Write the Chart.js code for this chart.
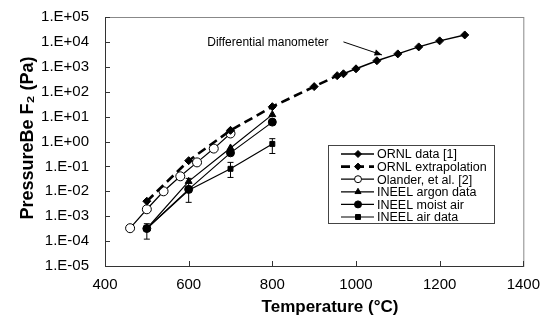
<!DOCTYPE html>
<html>
<head>
<meta charset="utf-8">
<script src="https://cdn.jsdelivr.net/npm/chart.js@4.4.1/dist/chart.umd.min.js"></script>
<style>
  html, body { margin: 0; padding: 0; background: #fff; }
  #wrap { width: 542px; height: 321px; }
</style>
</head>
<body>
<div id="wrap"><canvas id="chart" width="542" height="321"></canvas></div>
<script>
// data (temperature in °C, pressure in Pa)
const ornlT = [955, 970, 1000, 1050, 1100, 1150, 1200, 1260];
const ornlP = [440, 525, 830, 1750, 3300, 6300, 11000, 19000];
const extrapT = [500, 600, 700, 800, 900, 955];
const extrapP = [0.004, 0.17, 2.8, 25, 160, 440];
const olanderT = [460, 500, 540, 580, 620, 660, 700];
const olanderP = [3.3e-4, 1.9e-3, 0.01, 0.04, 0.145, 0.52, 2.1];
const ineelT = [500, 600, 700, 800];
const argonP = [3.2e-4, 0.025, 0.55, 12];
const moistP = [3.2e-4, 0.012, 0.35, 6];
const airP = [3.2e-4, 0.011, 0.08, 0.8];
const airLow = [1.2e-4, 0.0036, 0.036, 0.33];
const airHigh = [5e-4, 0.033, 0.145, 1.3];
const xTicks = [400, 600, 800, 1000, 1200, 1400];
const legendLabels = ['ORNL data [1]', 'ORNL extrapolation', 'Olander, et al. [2]',
  'INEEL argon data', 'INEEL moist air', 'INEEL air data'];
const noteText = 'Differential manometer';
const noteTail = [970, 10000];
const noteTip = [1062, 3000];

const FONT = '"Liberation Sans", Arial, Helvetica, sans-serif';
const pts = (xs, ys) => xs.map((x, i) => ({ x, y: ys[i] }));

function series(label, xs, ys, style, extra) {
  return Object.assign({
    label,
    data: pts(xs, ys),
    borderColor: '#000',
    backgroundColor: '#000',
    borderWidth: 1.2,
    pointStyle: style,
    pointRadius: 4,
    pointBorderColor: '#000',
    pointBackgroundColor: '#000',
    pointBorderWidth: 1,
    tension: 0
  }, extra || {});
}

const datasets = [
  series(legendLabels[0], ornlT, ornlP, 'rectRot', { borderWidth: 1.5 }),
  series(legendLabels[1], extrapT, extrapP, 'rectRot', {
    borderWidth: 2.6, borderDash: [9, 5],
    pointRadius: extrapT.map((t, i) => i === extrapT.length - 1 ? 0 : 4)
  }),
  series(legendLabels[2], olanderT, olanderP, 'circle', { pointBackgroundColor: '#fff', pointRadius: 4.5 }),
  series(legendLabels[3], ineelT, argonP, 'triangle'),
  series(legendLabels[4], ineelT, moistP, 'circle'),
  series(legendLabels[5], ineelT, airP, 'rect', { pointRadius: 3.5 })
];

// error bars, frame, inside ticks, titles, note and legend
const extras = {
  id: 'extras',
  afterDatasetsDraw(chart) {
    const { ctx, chartArea: a, scales: { x, y } } = chart;
    ctx.save();
    ctx.strokeStyle = '#000';
    ctx.lineWidth = 1;
    // air data error bars
    ineelT.forEach((t, i) => {
      const px = x.getPixelForValue(t);
      const y1 = y.getPixelForValue(airLow[i]);
      const y2 = y.getPixelForValue(airHigh[i]);
      ctx.beginPath();
      ctx.moveTo(px, y1); ctx.lineTo(px, y2);
      ctx.moveTo(px - 3, y1); ctx.lineTo(px + 3, y1);
      ctx.moveTo(px - 3, y2); ctx.lineTo(px + 3, y2);
      ctx.stroke();
    });
    // frame
    ctx.strokeStyle = '#888';
    ctx.strokeRect(a.left + 0.5, a.top + 0.5, a.right - a.left, a.bottom - a.top);
    ctx.strokeStyle = '#333';
    ctx.beginPath();
    ctx.moveTo(a.left + 0.5, a.top); ctx.lineTo(a.left + 0.5, a.bottom + 0.5);
    ctx.lineTo(a.right + 0.5, a.bottom + 0.5);
    // inside ticks
    x.ticks.forEach(tk => {
      const px = Math.round(x.getPixelForValue(tk.value)) + 0.5;
      ctx.moveTo(px, a.bottom); ctx.lineTo(px, a.bottom - 5);
    });
    y.ticks.forEach(tk => {
      const py = Math.round(y.getPixelForValue(tk.value)) + 0.5;
      ctx.moveTo(a.left, py); ctx.lineTo(a.left + 5, py);
    });
    ctx.stroke();

    // axis titles
    ctx.fillStyle = '#000';
    ctx.font = 'bold 17px ' + FONT;
    ctx.textAlign = 'center';
    ctx.textBaseline = 'alphabetic';
    ctx.fillText('Temperature (°C)', 330, 312);
    ctx.save();
    ctx.translate(33, 138);
    ctx.rotate(-Math.PI / 2);
    ctx.font = 'bold 18px ' + FONT;
    ctx.fillText('PressureBe F\u2082 (Pa)', 0, 0);
    ctx.restore();

    // note with arrow
    const tx = x.getPixelForValue(noteTail[0]), ty = y.getPixelForValue(noteTail[1]);
    const hx = x.getPixelForValue(noteTip[0]), hy = y.getPixelForValue(noteTip[1]);
    ctx.font = '12px ' + FONT;
    ctx.textAlign = 'right';
    ctx.textBaseline = 'middle';
    ctx.fillText(noteText, tx - 15, ty + 1);
    ctx.strokeStyle = '#000';
    ctx.beginPath();
    ctx.moveTo(tx, ty); ctx.lineTo(hx, hy);
    ctx.stroke();
    const ang = Math.atan2(hy - ty, hx - tx);
    ctx.beginPath();
    ctx.moveTo(hx, hy);
    ctx.lineTo(hx - 8 * Math.cos(ang - 0.4), hy - 8 * Math.sin(ang - 0.4));
    ctx.lineTo(hx - 8 * Math.cos(ang + 0.4), hy - 8 * Math.sin(ang + 0.4));
    ctx.closePath();
    ctx.fill();

    // legend box
    const bx = 328, by = 145, bw = 166, bh = 78;
    ctx.fillStyle = '#fff';
    ctx.fillRect(bx, by, bw, bh);
    ctx.strokeStyle = '#444';
    ctx.strokeRect(bx + 0.5, by + 0.5, bw, bh);
    ctx.font = '12.5px ' + FONT;
    ctx.textAlign = 'left';
    ctx.textBaseline = 'middle';
    chart.data.datasets.forEach((ds, i) => {
      const ly = by + 9 + i * 12.6;
      ctx.strokeStyle = '#000';
      ctx.lineWidth = ds.borderWidth;
      ctx.setLineDash(ds.borderDash || []);
      ctx.beginPath();
      ctx.moveTo(bx + 13, ly); ctx.lineTo(bx + 46, ly);
      ctx.stroke();
      ctx.setLineDash([]);
      ctx.lineWidth = 1;
      ctx.fillStyle = ds.pointBackgroundColor;
      ctx.strokeStyle = '#000';
      Chart.helpers.drawPoint(ctx, {
        pointStyle: ds.pointStyle, radius: 3.5, rotation: 0, borderWidth: 1
      }, bx + 30, ly);
      ctx.fillStyle = '#000';
      ctx.fillText(ds.label, bx + 49, ly + 1);
    });
    ctx.restore();
  }
};

new Chart(document.getElementById('chart'), {
  type: 'line',
  data: { datasets },
  options: {
    responsive: false,
    animation: false,
    layout: { padding: { top: 16, right: 8, left: 0, bottom: 0 } },
    plugins: { legend: { display: false }, tooltip: { enabled: false } },
    scales: {
      x: {
        type: 'linear',
        min: xTicks[0],
        max: xTicks[xTicks.length - 1],
        afterBuildTicks: s => { s.ticks = xTicks.map(v => ({ value: v })); },
        afterFit: s => { s.height = 55; },
        grid: { display: false },
        border: { display: false },
        ticks: {
          color: '#000', font: { family: FONT, size: 15 }, padding: 2, maxRotation: 0,
          callback: v => String(v)
        }
      },
      y: {
        type: 'logarithmic',
        min: 1e-5,
        max: 1e5,
        afterBuildTicks: s => {
          s.ticks = s.ticks.filter(t => {
            const l = Math.log10(t.value);
            return Math.abs(l - Math.round(l)) < 1e-6;
          });
        },
        afterFit: s => { s.width = 105; },
        grid: { display: false },
        border: { display: false },
        ticks: {
          color: '#000',
          font: { family: FONT, size: 15 },
          padding: 8,
          autoSkip: false,
          callback: v => {
            const e = Math.round(Math.log10(v));
            return '1.E' + (e < 0 ? '-' : '+') + String(Math.abs(e)).padStart(2, '0');
          }
        }
      }
    }
  },
  plugins: [extras]
});
</script>
</body>
</html>
